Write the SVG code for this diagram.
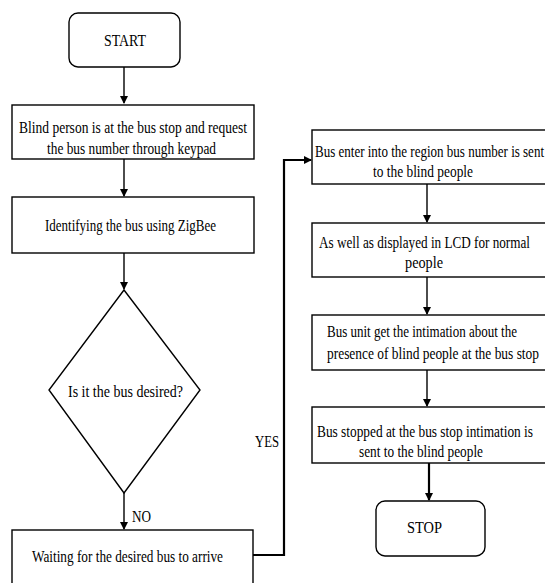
<svg xmlns="http://www.w3.org/2000/svg" width="545" height="583" viewBox="0 0 545 583">
<defs>
<marker id="ah" markerWidth="8" markerHeight="8" refX="7" refY="4" orient="auto" markerUnits="userSpaceOnUse">
<path d="M0,0 L8,4 L0,8 Z" fill="#000"/>
</marker>
<style>
.box{fill:#fff;stroke:#000;stroke-width:1.4}
.t{font-family:"Liberation Serif","Times New Roman",serif;font-size:16px;fill:#000}
.ln{fill:none;stroke:#000;stroke-width:1.4}
.thick{fill:none;stroke:#000;stroke-width:2.2}
</style>
</defs>
<rect width="545" height="583" fill="#fff"/>
<g id="connectors">
<path class="ln" d="M124,67 V103" marker-end="url(#ah)"/>
<path class="ln" d="M124,159 V196" marker-end="url(#ah)"/>
<path class="ln" d="M124,253 V289" marker-end="url(#ah)"/>
<path class="ln" d="M124,493 V529" marker-end="url(#ah)"/>
<path class="thick" d="M253,555 H284 V160 H311" marker-end="url(#ah)"/>
<path class="ln" d="M427,184 V222" marker-end="url(#ah)"/>
<path class="ln" d="M427,277 V314" marker-end="url(#ah)"/>
<path class="ln" d="M427,370 V406" marker-end="url(#ah)"/>
<path class="thick" d="M429,463 V500" marker-end="url(#ah)"/>
<text class="t" x="132" y="522" textLength="19" lengthAdjust="spacingAndGlyphs">NO</text>
<text class="t" x="255" y="447" textLength="24" lengthAdjust="spacingAndGlyphs">YES</text>
</g>
<g id="start">
<rect class="box" x="69" y="13" width="111" height="54" rx="9"/>
<text class="t" x="104" y="46" textLength="42" lengthAdjust="spacingAndGlyphs">START</text>
</g>
<g id="request">
<rect class="box" x="12" y="105" width="242" height="54"/>
<text class="t" x="19" y="133" textLength="228" lengthAdjust="spacingAndGlyphs">Blind person is at the bus stop and request</text>
<text class="t" x="47" y="154" textLength="169" lengthAdjust="spacingAndGlyphs">the bus number through keypad</text>
</g>
<g id="identify">
<rect class="box" x="12" y="197" width="242" height="56"/>
<text class="t" x="45" y="231" textLength="171" lengthAdjust="spacingAndGlyphs">Identifying the bus using ZigBee</text>
</g>
<g id="decision">
<polygon class="box" points="124,290 200,390 124,493 49,390"/>
<text class="t" x="68" y="397" textLength="115" lengthAdjust="spacingAndGlyphs">Is it the bus desired?</text>
</g>
<g id="waiting">
<rect class="box" x="12" y="530" width="241" height="55"/>
<text class="t" x="32" y="562" textLength="191" lengthAdjust="spacingAndGlyphs">Waiting for the desired bus to arrive</text>
</g>
<g id="enter">
<rect class="box" x="312" y="130" width="240" height="54"/>
<text class="t" x="315" y="157" textLength="229" lengthAdjust="spacingAndGlyphs">Bus enter into the region bus number is sent</text>
<text class="t" x="373" y="177" textLength="100" lengthAdjust="spacingAndGlyphs">to the blind people</text>
</g>
<g id="lcd">
<rect class="box" x="312" y="223" width="240" height="54"/>
<text class="t" x="319" y="248" textLength="211" lengthAdjust="spacingAndGlyphs">As well as displayed in LCD for normal</text>
<text class="t" x="405" y="268" textLength="38" lengthAdjust="spacingAndGlyphs">people</text>
</g>
<g id="intimation">
<rect class="box" x="312" y="315" width="240" height="55"/>
<text class="t" x="327" y="337" textLength="190" lengthAdjust="spacingAndGlyphs">Bus unit get the intimation about the</text>
<text class="t" x="327" y="359" textLength="212" lengthAdjust="spacingAndGlyphs">presence of blind people at the bus stop</text>
</g>
<g id="stopped">
<rect class="box" x="312" y="407" width="240" height="56"/>
<text class="t" x="317" y="437" textLength="216" lengthAdjust="spacingAndGlyphs">Bus stopped at the bus stop intimation is</text>
<text class="t" x="359" y="457" textLength="124" lengthAdjust="spacingAndGlyphs">sent to the blind people</text>
</g>
<g id="stop">
<rect class="box" x="376" y="501" width="109" height="55" rx="9"/>
<text class="t" x="407" y="533" textLength="35" lengthAdjust="spacingAndGlyphs">STOP</text>
</g>
</svg>
